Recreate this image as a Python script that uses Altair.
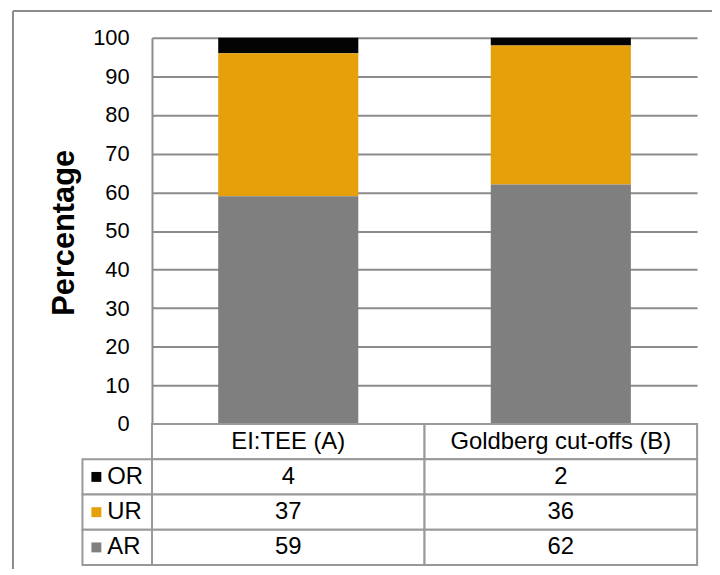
import altair as alt
import pandas as pd

categories = ["EI:TEE (A)", "Goldberg cut-offs (B)"]
series = ["OR", "UR", "AR"]
or_values = [4, 2]
ur_values = [37, 36]
ar_values = [59, 62]
colors = ["#030303", "#E5A00A", "#7F7F7F"]
y_ticks = list(range(0, 101, 10))

FONT = "Liberation Sans"
GRID = "#8c8c8c"
TABLE = "#999999"

vals = {"OR": or_values, "UR": ur_values, "AR": ar_values}
bar_rows = []
for s_i, s in enumerate(series):
    for c_i, c in enumerate(categories):
        bar_rows.append({"cat": c, "series": s, "value": vals[s][c_i],
                         "order": len(series) - 1 - s_i})
bar_df = pd.DataFrame(bar_rows)

row_domain = ["hdr"] + series
table_rows = []
for c in categories:
    table_rows.append({"row": "hdr", "cat": c, "label": c})
for s in series:
    for c_i, c in enumerate(categories):
        table_rows.append({"row": s, "cat": c, "label": str(vals[s][c_i])})
table_df = pd.DataFrame(table_rows)
legend_df = pd.DataFrame({"row": series, "series": series})

W, H = 549, 389
x_enc = alt.X("cat:N", scale=alt.Scale(domain=categories, paddingInner=0, paddingOuter=0),
              axis=None, sort=categories)
color_enc = alt.Color("series:N", scale=alt.Scale(domain=series, range=colors), legend=None)
row_y = alt.Y("row:N", scale=alt.Scale(domain=row_domain, range=[H, H + 142],
                                        paddingInner=0, paddingOuter=0), axis=None)

bars = alt.Chart(bar_df).mark_bar(width=alt.RelativeBandSize(band=0.514)).encode(
    x=x_enc,
    y=alt.Y("value:Q", stack="zero", scale=alt.Scale(domain=[0, 100], nice=False),
            axis=alt.Axis(values=y_ticks, title="Percentage", ticks=False, labelPadding=23,
                          labelFont=FONT, labelFontSize=22, labelColor="#000000",
                          domain=True, domainColor=GRID, domainWidth=2,
                          grid=True, gridColor=GRID, gridWidth=2,
                          titleFont=FONT, titleFontSize=31, titleFontWeight="bold",
                          titleColor="#000000", titleAngle=270, titleX=-88, titleY=196,
                          titleAlign="center", titleBaseline="middle")),
    color=color_enc,
    order=alt.Order("order:Q"),
)

cells = alt.Chart(table_df).mark_rect(fill="white", stroke=TABLE, strokeWidth=2).encode(
    x=x_enc, y=row_y)
cell_text = alt.Chart(table_df).mark_text(font=FONT, fontSize=24, color="#000000").encode(
    x=x_enc, y=row_y, text="label:N")

leg_cells = alt.Chart(legend_df).mark_rect(fill="white", stroke=TABLE, strokeWidth=2).encode(
    x=alt.value(-70), x2=alt.value(0), y=row_y)
leg_sq = alt.Chart(legend_df).mark_square(size=100, opacity=1).encode(
    x=alt.value(-56), y=row_y, color=color_enc)
leg_text = alt.Chart(legend_df).mark_text(font=FONT, fontSize=24, align="left",
                                          color="#000000").encode(
    x=alt.value(-45), y=row_y, text="series:N")

frame_df = pd.DataFrame({"k": [0]})
frame_left = alt.Chart(frame_df).mark_rule(color=GRID, strokeWidth=2).encode(
    x=alt.value(-140), y=alt.value(-27), y2=alt.value(H + 200))
frame_top = alt.Chart(frame_df).mark_rule(color=GRID, strokeWidth=2).encode(
    x=alt.value(-140), x2=alt.value(W + 100), y=alt.value(-27))

chart = alt.layer(frame_left, frame_top, bars, cells, cell_text, leg_cells, leg_sq, leg_text
                  ).resolve_scale(y="independent").properties(
    width=W, height=H,
    autosize=alt.AutoSizeParams(type="none"),
    padding={"left": 145, "top": 28, "right": 15, "bottom": 144},
).configure_view(stroke=None)

chart.save("out.html", embed_options={"renderer": "svg", "actions": False})
